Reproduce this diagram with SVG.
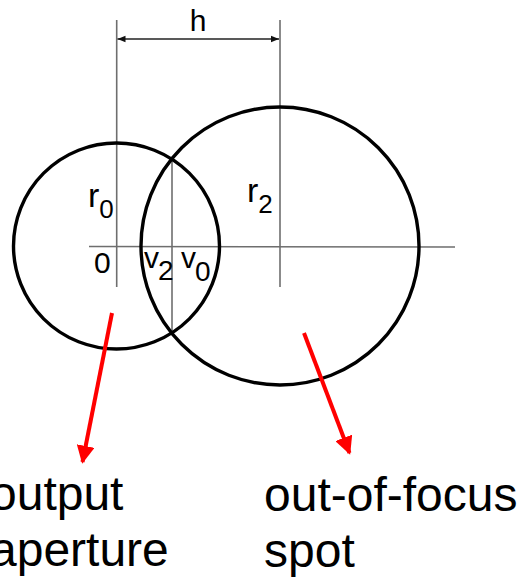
<svg xmlns="http://www.w3.org/2000/svg" width="521" height="580" viewBox="0 0 521 580">
<style>
.grid{stroke:#6e6e6e;stroke-width:1.6;fill:none}
.circ{stroke:#000;stroke-width:3.4;fill:none}
.lbl{font-family:"Liberation Sans",Arial,sans-serif;font-size:30px;fill:#000}
.rl{font-size:34px}
.big{font-family:"Liberation Sans",Arial,sans-serif;font-size:48px;fill:#000}
.red{stroke:#ff0000;stroke-width:4;fill:none}
</style>
<defs>
<marker id="ah" viewBox="0 0 10 10" refX="10" refY="5" markerWidth="10" markerHeight="8" markerUnits="userSpaceOnUse" orient="auto-start-reverse">
<path d="M0,1 L10,5 L0,9 Z" fill="#111"/>
</marker>
<marker id="rh" viewBox="0 0 10 10" refX="9" refY="5" markerWidth="4.5" markerHeight="4.5" orient="auto">
<path d="M0,0 L10,5 L0,10 Z" fill="#ff0000"/>
</marker>
</defs>
<g id="axes">
<line class="grid" x1="116.7" y1="20" x2="116.7" y2="287"/>
<line class="grid" x1="280" y1="20" x2="280" y2="287"/>
<line class="grid" x1="89" y1="246.5" x2="455" y2="247"/>
<line class="grid" x1="172" y1="159" x2="172" y2="333"/>
</g>
<g id="dimension-h">
<line x1="117.5" y1="39" x2="279" y2="39" stroke="#222" stroke-width="1.4" marker-start="url(#ah)" marker-end="url(#ah)"/>
<text class="lbl" x="198" y="31" text-anchor="middle">h</text>
</g>
<g id="output-aperture-circle">
<circle class="circ" cx="116.5" cy="246" r="103"/>
</g>
<g id="out-of-focus-spot-circle">
<circle class="circ" cx="280" cy="246" r="139"/>
</g>
<g id="labels">
<text class="lbl rl" x="88" y="207">r<tspan font-size="26" dy="11">0</tspan></text>
<text class="lbl rl" x="247" y="202">r<tspan font-size="26" dy="11">2</tspan></text>
<text class="lbl" x="94" y="273">0</text>
<text class="lbl" x="144" y="268">v<tspan font-size="28" dy="12" dx="-1">2</tspan></text>
<text class="lbl" x="181" y="268">v<tspan font-size="28" dy="13" dx="-1">0</tspan></text>
</g>
<g id="connectors">
<line class="red" x1="112" y1="313" x2="82.5" y2="462" marker-end="url(#rh)"/>
<line class="red" x1="304" y1="333" x2="349.5" y2="453" marker-end="url(#rh)"/>
</g>
<g id="caption-output-aperture">
<text class="big" x="-10" y="510">output</text>
<text class="big" x="-10" y="566">aperture</text>
</g>
<g id="caption-out-of-focus-spot">
<text class="big" x="264" y="511">out-of-focus</text>
<text class="big" x="264" y="567">spot</text>
</g>
</svg>
